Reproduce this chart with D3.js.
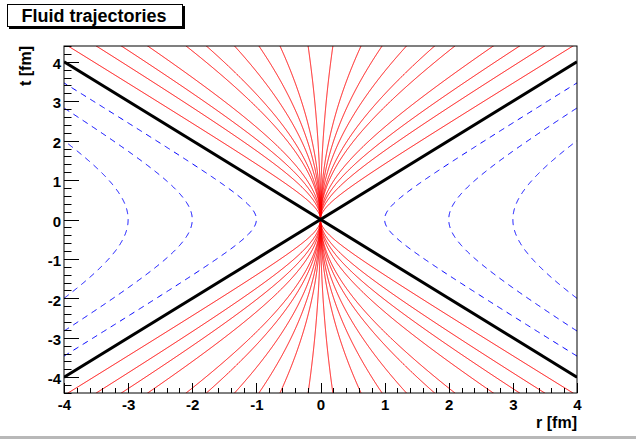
<!DOCTYPE html>
<html><head><meta charset="utf-8">
<script src="https://cdn.jsdelivr.net/npm/d3@7"></script>
<style>
html,body{margin:0;padding:0;background:#fff;}
svg{display:block;font-family:"Liberation Sans",Arial,Helvetica,sans-serif;}
</style></head>
<body>
<svg id="c" width="636" height="439"></svg>
<script>
// ---- data ----
const chartTitle = "Fluid trajectories";
const xTitle = "r [fm]";
const yTitle = "t [fm]";
const rDomain = [-4, 4];
const tDomain = [-4.4, 4.4];
const xTickValues = [-4, -3, -2, -1, 0, 1, 2, 3, 4];
const yTickValues = [-4, -3, -2, -1, 0, 1, 2, 3, 4];
// red trajectories: t^2 - r^2 = c|r|, one value of c per curve (mirrored in r)
const trajectoryParams = [0.98, 2.04, 3.13, 4.49, 7.14, 9.10, 13.1, 19.2, 30.0, 100];
// blue dashed curves: r^2 - t^2 = b|r|, vertices at |r| = b
const spacelikeParams = [1, 2, 3];
// black light cone lines (r,t endpoints)
const lightCone = [[[-4, -4], [4, 4]], [[-4, 4], [4, -4]]];

// ---- layout ----
const svg = d3.select("#c");
const L = 64, R = 577, T = 46, B = 393;
const x = d3.scaleLinear().domain(rDomain).range([L, R]);
const y = d3.scaleLinear().domain(tDomain).range([B, T]);
const fmt = d => String(d);

svg.append("rect").attr("width", 636).attr("height", 439).attr("fill", "#fff");
// bottom grey canvas edge
svg.append("rect").attr("x", 0).attr("y", 436).attr("width", 636).attr("height", 3).attr("fill", "#b8b8b8");

svg.append("defs").append("clipPath").attr("id", "clip")
  .append("rect").attr("x", L).attr("y", T).attr("width", R - L).attr("height", B - T);

const plot = svg.append("g").attr("clip-path", "url(#clip)");
const line = d3.line().x(d => x(d[0])).y(d => y(d[1]));

// red trajectories
const ts = d3.range(-4.5, 4.5001, 0.01);
trajectoryParams.forEach(c => {
  [-1, 1].forEach(s => {
    const pts = ts.map(t => [s * (-c + Math.sqrt(c * c + 4 * t * t)) / 2, t]);
    plot.append("path").attr("d", line(pts)).attr("fill", "none")
      .attr("stroke", "#ff0000").attr("stroke-width", 1);
  });
});

// blue dashed
spacelikeParams.forEach(b => {
  const tmax = Math.sqrt(16 - 4 * b);
  const n = 400;
  const tt = d3.range(n + 1).map(i => -tmax + 2 * tmax * i / n);
  [-1, 1].forEach(s => {
    const pts = tt.map(t => [s * (b + Math.sqrt(b * b + 4 * t * t)) / 2, t]);
    plot.append("path").attr("d", line(pts)).attr("fill", "none")
      .attr("stroke", "#0000ff").attr("stroke-width", 1).attr("stroke-dasharray", "6,5");
  });
});

// light cone
lightCone.forEach(seg => {
  plot.append("path").attr("d", line(seg)).attr("fill", "none")
    .attr("stroke", "#000").attr("stroke-width", 3);
});

// frame
svg.append("rect").attr("x", L).attr("y", T).attr("width", R - L).attr("height", B - T)
  .attr("fill", "none").attr("stroke", "#000").attr("stroke-width", 1);

// ticks (drawn explicitly from the scales)
const xMinor = d3.range(-4, 4.0001, 0.2);
const yMinor = d3.range(-4.4, 4.4001, 0.2);
const tk = svg.append("g").attr("stroke", "#000").attr("stroke-width", 1);
xMinor.forEach(v => tk.append("line").attr("x1", Math.round(x(v)) + 0.5).attr("x2", Math.round(x(v)) + 0.5)
  .attr("y1", B).attr("y2", B - 5));
xTickValues.forEach(v => tk.append("line").attr("x1", Math.round(x(v)) + 0.5).attr("x2", Math.round(x(v)) + 0.5)
  .attr("y1", B).attr("y2", B - 10));
yMinor.forEach(v => tk.append("line").attr("y1", Math.round(y(v)) + 0.5).attr("y2", Math.round(y(v)) + 0.5)
  .attr("x1", L).attr("x2", L + 7.5));
yTickValues.forEach(v => tk.append("line").attr("y1", Math.round(y(v)) + 0.5).attr("y2", Math.round(y(v)) + 0.5)
  .attr("x1", L).attr("x2", L + 15));

// tick labels via d3 axes (tick marks hidden, drawn above)
const xAxis = d3.axisBottom(x).tickValues(xTickValues).tickSize(0).tickPadding(6).tickFormat(fmt);
const xg = svg.append("g").attr("transform", `translate(0,${B})`).call(xAxis);
xg.select(".domain").remove();
xg.selectAll(".tick line").remove();
xg.selectAll("text").style("font-size", "15px").style("font-weight", "bold").style("fill", "#000")
  .style("font-family", "'Liberation Sans', Arial, sans-serif");

const yAxis = d3.axisLeft(y).tickValues(yTickValues).tickSize(0).tickPadding(3).tickFormat(fmt);
const yg = svg.append("g").attr("transform", `translate(${L},0)`).call(yAxis);
yg.select(".domain").remove();
yg.selectAll(".tick line").remove();
yg.selectAll("text").style("font-size", "15px").style("font-weight", "bold").style("fill", "#000")
  .style("font-family", "'Liberation Sans', Arial, sans-serif").attr("dy", "0.45em");

// axis titles
svg.append("text").attr("x", R).attr("y", 428).attr("text-anchor", "end")
  .style("font-size", "16px").style("font-weight", "bold").text(xTitle);
svg.append("text").attr("transform", `translate(31,${T}) rotate(-90)`).attr("text-anchor", "end")
  .style("font-size", "16px").style("font-weight", "bold").text(yTitle);

// title box with shadow
svg.append("rect").attr("x", 9).attr("y", 6).attr("width", 176).attr("height", 23).attr("fill", "#000");
svg.append("rect").attr("x", 7.5).attr("y", 4.5).attr("width", 175).attr("height", 22)
  .attr("fill", "#fff").attr("stroke", "#000").attr("stroke-width", 1);
svg.append("text").attr("x", 94).attr("y", 22).attr("text-anchor", "middle")
  .style("font-size", "18px").style("font-weight", "bold").text(chartTitle);
</script>
</body></html>
